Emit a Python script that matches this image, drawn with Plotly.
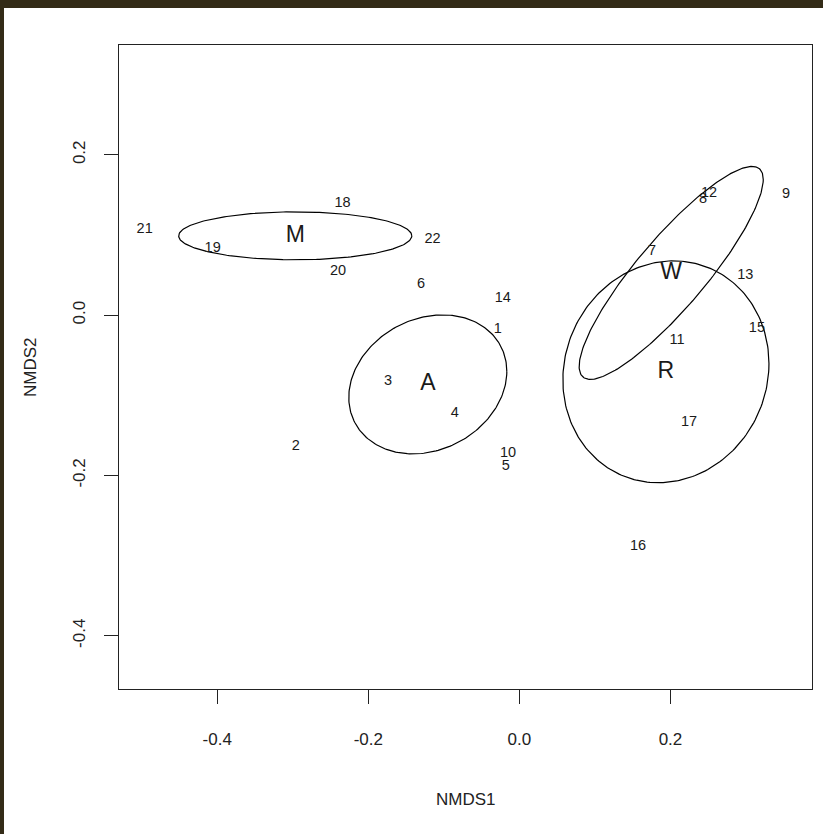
import numpy as np
import plotly.graph_objects as go

# ---- data -------------------------------------------------------------
site_labels = ["1", "2", "3", "4", "5", "6", "7", "8", "9", "10", "11",
               "12", "13", "14", "15", "16", "17", "18", "19", "20", "21", "22"]
nmds1 = [-0.0285, -0.296, -0.174, -0.0855, -0.018, -0.130, 0.1755, 0.243, 0.353,
         -0.015, 0.2086, 0.251, 0.299, -0.022, 0.3145, 0.157, 0.2245, -0.234,
         -0.406, -0.240, -0.496, -0.115]
nmds2 = [-0.018, -0.164, -0.083, -0.122, -0.189, 0.0378, 0.079, 0.145, 0.151,
         -0.172, -0.032, 0.1525, 0.050, 0.0203, -0.016, -0.289, -0.134, 0.139,
         0.0827, 0.055, 0.1076, 0.095]

group_names = ["M", "A", "W", "R"]
group_cx = [-0.2967, -0.1212, 0.2010, 0.1940]
group_cy = [0.0989, -0.0864, 0.0527, -0.0707]
# ellipse covariance-like shape parameters (Sxx, Syy, Sxy)
group_sxx = [0.02381, 0.01094, 0.01485, 0.01861]
group_syy = [0.000894, 0.00752, 0.01764, 0.01915]
group_sxy = [0.0, 0.0017, 0.0142, 0.0014]

x_ticks = [-0.4, -0.2, 0.0, 0.2]
y_ticks = [-0.4, -0.2, 0.0, 0.2]
x_range = [-0.530, 0.3874]
y_range = [-0.4664, 0.337]

FONT = "Arial, Liberation Sans, sans-serif"

fig = go.Figure()

# ellipses
t = np.linspace(0, 2 * np.pi, 241)
for cx, cy, sxx, syy, sxy in zip(group_cx, group_cy, group_sxx, group_syy, group_sxy):
    l11 = np.sqrt(sxx)
    l21 = sxy / l11
    l22 = np.sqrt(max(syy - l21 ** 2, 1e-12))
    ex = cx + l11 * np.cos(t)
    ey = cy + l21 * np.cos(t) + l22 * np.sin(t)
    fig.add_trace(go.Scatter(x=ex, y=ey, mode="lines",
                             line=dict(color="black", width=1.2),
                             hoverinfo="skip", showlegend=False))

# site numbers
fig.add_trace(go.Scatter(x=nmds1, y=nmds2, mode="text", text=site_labels,
                         textposition="middle center",
                         textfont=dict(family=FONT, size=14.5, color="#1a1a1a"),
                         showlegend=False))

# group letters
fig.add_trace(go.Scatter(x=group_cx, y=group_cy, mode="text", text=group_names,
                         textposition="middle center",
                         textfont=dict(family=FONT, size=23, color="#1a1a1a"),
                         showlegend=False))

axis_common = dict(showgrid=False, zeroline=False, showline=True, linecolor="#222",
                   linewidth=1.2, mirror=True, ticks="outside", ticklen=14,
                   tickwidth=1.2, tickcolor="#222",
                   tickfont=dict(family=FONT, size=17, color="#222"))

fig.update_xaxes(range=x_range, tickvals=x_ticks,
                 ticktext=[f"{v:.1f}" for v in x_ticks],
                 ticklabelstandoff=20, **axis_common)
fig.update_yaxes(range=y_range, tickvals=y_ticks,
                 ticktext=[f"{v:.1f}" for v in y_ticks],
                 tickangle=-90, ticklabelstandoff=12, **axis_common)

fig.update_layout(
    width=823, height=834,
    margin=dict(l=119, r=11, t=45, b=145, pad=0),
    paper_bgcolor="white", plot_bgcolor="white",
    showlegend=False,
    annotations=[
        dict(text="NMDS1", xref="paper", yref="paper", x=0.5, y=(689 - 800) / 644,
             xanchor="center", yanchor="middle", showarrow=False,
             font=dict(family=FONT, size=17, color="#222")),
        dict(text="NMDS2", xref="paper", yref="paper", x=(30 - 119) / 693, y=0.5,
             xanchor="center", yanchor="middle", textangle=-90, showarrow=False,
             font=dict(family=FONT, size=17, color="#222")),
    ],
    shapes=[
        dict(type="rect", xref="paper", yref="paper",
             x0=(0 - 119) / 693 - 0.01, x1=(823 - 119) / 693 + 0.01,
             y0=(689 - 8) / 644, y1=(689 + 2) / 644 + 0.01,
             fillcolor="#332b17", line=dict(width=0), layer="above"),
        dict(type="rect", xref="paper", yref="paper",
             x0=(0 - 119) / 693 - 0.01, x1=(4 - 119) / 693,
             y0=(689 - 834) / 644 - 0.01, y1=(689 + 2) / 644 + 0.01,
             fillcolor="#332b17", line=dict(width=0), layer="above"),
    ],
)

fig.write_html("out.html",
               config={"displayModeBar": False, "staticPlot": True},
               post_script="document.body.style.margin='0';document.body.style.overflow='hidden';")
